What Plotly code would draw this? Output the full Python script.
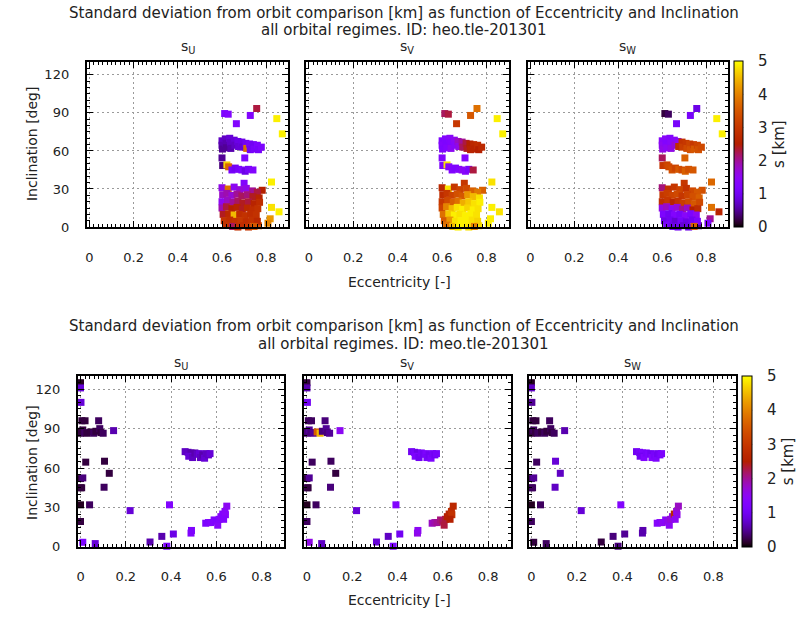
import math
import plotly.graph_objects as go

# ---------------- data ----------------
titles_top = ["Standard deviation from orbit comparison [km] as function of Eccentricity and Inclination",
              "all orbital regimes. ID: heo.tle-201301"]
titles_bot = ["Standard deviation from orbit comparison [km] as function of Eccentricity and Inclination",
              "all orbital regimes. ID: meo.tle-201301"]
panel_names = ["s<sub>U</sub>", "s<sub>V</sub>", "s<sub>W</sub>"]
x_ticks = [0, 0.2, 0.4, 0.6, 0.8]
x_ticktext = ["0", "0.2", "0.4", "0.6", "0.8"]
y_ticks = [0, 30, 60, 90, 120]
cb_ticks = [0, 1, 2, 3, 4, 5]

# HEO (top row)
heo_ecc = [0.612, 0.628, 0.665, 0.728, 0.757, 0.848, 0.873,
           0.600, 0.600, 0.602, 0.615, 0.618, 0.620, 0.635, 0.638, 0.640, 0.655, 0.658, 0.672, 0.675,
           0.690, 0.693, 0.708, 0.712, 0.725, 0.728, 0.742, 0.745, 0.760, 0.765, 0.778,
           0.600, 0.703,
           0.603, 0.622, 0.630, 0.645, 0.660, 0.675, 0.690, 0.705, 0.720, 0.740,
           0.824, 0.824, 0.858, 0.818, 0.808, 0.765, 0.700, 0.782,
           0.600, 0.628, 0.655, 0.680, 0.710, 0.738, 0.760,
           0.603, 0.622, 0.645, 0.668, 0.690, 0.715, 0.740, 0.768,
           0.600, 0.625, 0.650, 0.672, 0.695, 0.720, 0.745, 0.770,
           0.600, 0.620, 0.645, 0.668, 0.692, 0.715, 0.740, 0.762,
           0.605, 0.630, 0.655, 0.680, 0.705, 0.730, 0.755,
           0.610, 0.635, 0.660, 0.685, 0.710, 0.735, 0.760,
           0.620, 0.648, 0.672, 0.695, 0.720, 0.745]
heo_inc = [89.5, 89.0, 81.5, 88.0, 93.5, 85.5, 73.5,
           68.0, 64.5, 61.5, 69.5, 66.0, 62.5, 70.0, 66.5, 62.0, 68.5, 64.5, 67.5, 63.5,
           67.0, 63.0, 66.0, 62.0, 65.5, 61.0, 65.0, 61.5, 64.5, 61.0, 63.0,
           54.5, 54.5,
           48.5, 49.0, 47.5, 45.0, 46.5, 45.5, 45.0, 44.0, 45.5, 45.0,
           35.5, 15.5, 12.0, 6.5, 3.0, 1.0, 34.5, 29.0,
           31.0, 30.0, 31.5, 29.5, 30.5, 28.5, 27.5,
           25.5, 26.5, 25.0, 26.0, 24.5, 25.5, 24.0, 23.0,
           20.0, 21.0, 19.5, 20.5, 19.0, 20.0, 18.5, 19.5,
           15.0, 16.0, 14.5, 15.5, 14.0, 15.0, 13.5, 14.5,
           10.0, 10.5, 9.5, 10.0, 9.0, 10.5, 9.5,
           5.0, 5.5, 4.5, 5.0, 4.0, 5.5, 4.5,
           1.5, 0.5, 0.0, 1.0, 0.0, 0.5]
heo_su = [1.2, 1.3, 1.3, 1.3, 2.3, 4.9, 4.9,
          0.7, 0.6, 0.5, 0.7, 0.6, 0.5, 0.8, 0.7, 0.6, 0.8, 0.7, 0.9, 0.8,
          0.9, 0.8, 1.0, 3.8, 1.1, 1.0, 1.0, 1.1, 1.2, 1.1, 1.2,
          0.5, 1.2,
          0.4, 4.7, 3.7, 1.1, 1.0, 1.1, 1.2, 0.9, 1.1, 1.3,
          4.9, 4.8, 4.9, 4.2, 4.0, 3.5, 1.3, 2.5,
          1.6, 3.8, 1.5, 1.7, 1.6, 2.0, 2.3,
          1.8, 1.9, 1.7, 2.0, 2.2, 2.1, 2.4, 2.6,
          1.5, 1.8, 2.0, 2.2, 2.4, 2.3, 2.6, 2.8,
          1.9, 2.3, 2.5, 2.6, 2.4, 2.7, 2.8, 2.9,
          2.4, 2.7, 4.5, 2.8, 2.9, 2.8, 2.9,
          2.9, 2.8, 2.9, 3.0, 2.8, 2.9, 2.7,
          2.9, 2.2, 2.9, 2.8, 3.0, 3.5]
heo_sv = [2.2, 2.3, 3.0, 3.5, 3.8, 4.9, 4.9,
          1.2, 1.3, 1.2, 1.3, 1.2, 1.3, 1.4, 1.3, 1.5, 1.5, 1.4, 1.8, 1.6,
          2.0, 2.2, 2.3, 2.4, 2.5, 2.6, 2.7, 2.6, 2.8, 2.5, 2.7,
          1.3, 1.3,
          1.2, 4.8, 1.4, 1.3, 1.2, 1.3, 1.5, 1.4, 1.2, 2.3,
          4.8, 4.9, 4.8, 4.9, 4.9, 4.8, 3.0, 3.6,
          2.7, 4.8, 3.0, 3.2, 3.3, 3.6, 3.9,
          2.8, 3.0, 3.2, 3.4, 3.5, 4.2, 4.5, 4.8,
          3.0, 3.3, 3.6, 3.8, 4.4, 4.6, 4.8, 4.9,
          3.2, 4.0, 4.5, 4.8, 4.9, 4.7, 4.9, 4.8,
          3.8, 4.6, 4.9, 4.8, 4.9, 4.9, 4.8,
          3.5, 4.2, 4.8, 4.9, 4.9, 4.8, 4.7,
          3.8, 4.5, 4.9, 4.9, 4.8, 4.0]
heo_sw = [0.2, 0.3, 1.1, 1.1, 0.9, 4.9, 4.9,
          1.4, 1.5, 1.6, 1.4, 1.3, 1.5, 1.3, 1.4, 1.6, 1.4, 1.7, 1.5, 2.8,
          2.9, 3.1, 3.0, 3.3, 3.2, 3.4, 3.0, 3.5, 3.2, 3.4, 3.3,
          2.2, 3.6,
          3.0, 3.2, 3.3, 3.4, 3.2, 3.5, 3.3, 3.6, 3.4, 3.5,
          3.7, 3.8, 2.6, 2.0, 1.2, 0.5, 3.0, 3.4,
          2.1, 2.9, 3.0, 3.2, 2.9, 3.3, 3.5,
          3.0, 3.1, 3.2, 3.3, 3.0, 3.2, 3.4, 3.6,
          2.8, 3.0, 2.6, 2.9, 3.1, 3.3, 3.5, 3.3,
          1.6, 1.8, 1.5, 1.7, 2.0, 1.8, 2.5, 2.8,
          1.2, 1.0, 1.3, 1.1, 1.4, 1.2, 1.5,
          0.9, 1.0, 0.8, 1.1, 0.9, 1.0, 1.2,
          1.1, 0.9, 1.0, 0.8, 0.9, 3.6]

# MEO (bottom row)
meo_ecc = [0.000, 0.000, 0.002, 0.006, 0.020, 0.080,
           0.000, 0.000, 0.010, 0.018, 0.028, 0.045, 0.058, 0.068, 0.085, 0.090, 0.100, 0.146,
           0.023, 0.106, 0.127, 0.000, 0.010, 0.000, 0.005, 0.104, 0.000, 0.040, 0.219, 0.393,
           0.000, 0.010, 0.065, 0.307, 0.359, 0.381, 0.410, 0.488, 0.490,
           0.462, 0.475, 0.488, 0.478, 0.495, 0.505, 0.515, 0.525, 0.530, 0.540, 0.548, 0.555, 0.565, 0.572,
           0.553, 0.565, 0.575, 0.590, 0.600, 0.606, 0.612, 0.620, 0.628, 0.638, 0.646, 0.640, 0.632]
meo_inc = [125.0, 121.0, 110.0, 96.0, 96.0, 96.0,
           88.0, 86.5, 89.0, 87.0, 86.5, 87.5, 86.5, 88.0, 90.0, 87.0, 86.5, 88.5,
           64.5, 65.2, 56.0, 52.0, 52.5, 45.0, 45.0, 45.4, 32.0, 32.0, 27.6, 32.0,
           19.3, 3.5, 2.5, 3.7, 8.0, 0.5, 9.8, 10.5, 12.5,
           72.5, 72.0, 71.5, 69.0, 68.0, 71.5, 70.5, 71.0, 68.0, 70.0, 67.5, 71.0, 70.0, 71.0,
           18.0, 18.5, 18.5, 20.5, 19.5, 16.5, 21.0, 23.0, 25.0, 27.0, 31.0, 24.5, 21.0]
meo_su = [0.1, 0.8, 0.8, 0.2, 0.2, 0.3,
          0.1, 0.2, 0.2, 0.3, 0.2, 0.2, 0.3, 0.2, 0.3, 0.2, 0.3, 0.6,
          0.2, 0.2, 0.2, 0.2, 0.4, 0.1, 0.2, 0.3, 0.1, 0.3, 0.8, 1.3,
          0.2, 1.2, 0.8, 0.6, 0.6, 1.2, 0.9, 1.3, 1.2,
          0.7, 0.7, 0.6, 0.8, 0.7, 0.6, 0.7, 0.8, 0.7, 0.6, 0.8, 0.7, 0.7, 0.8,
          1.2, 1.2, 1.3, 1.3, 1.2, 1.4, 1.3, 1.4, 1.3, 1.4, 1.5, 1.4, 1.3]
meo_sv = [0.2, 0.6, 1.0, 0.3, 0.3, 0.4,
          0.3, 0.4, 0.5, 0.4, 0.5, 3.6, 4.5, 0.4, 0.5, 0.4, 0.5, 1.5,
          0.3, 0.3, 0.2, 0.2, 0.5, 0.3, 0.2, 0.4, 0.1, 0.3, 0.8, 1.3,
          0.3, 1.6, 0.7, 0.8, 0.7, 1.2, 1.0, 1.6, 1.5,
          1.0, 1.1, 0.9, 1.2, 1.0, 1.1, 1.0, 1.2, 1.1, 1.0, 1.2, 1.1, 1.0, 1.1,
          1.8, 1.9, 2.0, 2.1, 2.2, 2.3, 2.3, 2.5, 2.6, 2.8, 2.7, 2.9, 2.5]
meo_sw = [0.1, 0.7, 0.5, 0.2, 0.2, 0.3,
          0.2, 0.2, 0.3, 0.2, 0.3, 0.2, 0.3, 0.2, 0.3, 0.2, 0.3, 0.6,
          0.3, 0.8, 0.7, 0.3, 0.5, 0.3, 0.3, 0.7, 0.1, 0.3, 0.8, 1.3,
          0.3, 0.2, 0.3, 0.2, 0.4, 0.4, 0.5, 0.6, 0.6,
          1.0, 1.1, 1.2, 1.0, 1.3, 1.1, 1.2, 1.0, 1.3, 1.1, 1.2, 1.0, 1.1, 1.2,
          1.4, 1.3, 1.5, 1.4, 1.6, 1.5, 1.7, 1.6, 2.7, 1.7, 1.8, 1.6, 1.5]

# ---------------- style ----------------
W, H = 804, 622
FONT = "DejaVu Sans"
TXT = "#222222"

def px(x):
    return x / W

def py(y):
    return 1 - y / H

# gnuplot default palette (rgbformulae 7,5,15)
colorscale = []
for i in range(51):
    t = i / 50
    r = math.sqrt(t)
    g = t ** 3
    b = max(0.0, math.sin(2 * math.pi * t))
    colorscale.append([t, "rgb(%d,%d,%d)" % (round(r * 255), round(g * 255), round(b * 255))])

rows = [
    dict(ydom=(63, 230), xdoms=[(85, 287), (305, 508), (527, 728)],
         ecc=heo_ecc, inc=heo_inc, vals=[heo_su, heo_sv, heo_sw], ca="coloraxis",
         cb=dict(x0=734, x1=743, y0=62, y1=230), titles=titles_top, t_y=(13, 30), s_y=48,
         ylab=(30, 145), xlab=(398, 286)),
    dict(ydom=(381, 554), xdoms=[(76, 283), (303, 510), (528, 736)],
         ecc=meo_ecc, inc=meo_inc, vals=[meo_su, meo_sv, meo_sw], ca="coloraxis2",
         cb=dict(x0=742, x1=752, y0=381, y1=554), titles=titles_bot, t_y=(330, 348), s_y=368,
         ylab=(30, 468), xlab=(398, 608)),
]

fig = go.Figure()
layout = dict(width=W, height=H, margin=dict(l=0, r=0, t=0, b=0),
              paper_bgcolor="white", plot_bgcolor="white", showlegend=False,
              font=dict(family=FONT, size=13, color=TXT))
annotations = []
shapes = []


def note(text, x, y, size, angle=0):
    annotations.append(dict(text=text, x=px(x), y=py(y), xref="paper", yref="paper",
                            xanchor="center", yanchor="middle", showarrow=False,
                            textangle=angle, font=dict(family=FONT, size=size, color=TXT)))


k = 0
for r_i, row in enumerate(rows):
    for p_i in range(3):
        k += 1
        xa = "xaxis" if k == 1 else "xaxis%d" % k
        ya = "yaxis" if k == 1 else "yaxis%d" % k
        xd = row["xdoms"][p_i]
        fig.add_trace(go.Scatter(
            x=row["ecc"], y=row["inc"], mode="markers",
            xaxis="x" if k == 1 else "x%d" % k, yaxis="y" if k == 1 else "y%d" % k,
            cliponaxis=False,
            marker=dict(symbol="square", size=7, color=row["vals"][p_i],
                        coloraxis=row["ca"], line=dict(width=0)),
            hoverinfo="skip"))
        common = dict(showline=True, linecolor="black", linewidth=2, mirror="ticks",
                      ticks="inside", ticklen=6, tickcolor="black", tickwidth=1,
                      showgrid=True, gridcolor="#9a9a9a", gridwidth=1, griddash="2px,3px",
                      zeroline=False, tickfont=dict(family=FONT, size=13, color=TXT))
        layout[xa] = dict(common, domain=[px(xd[0]), px(xd[1])], range=[-0.012, 0.9],
                          tickvals=x_ticks, ticktext=x_ticktext, anchor="y" if k == 1 else "y%d" % k,
                          ticklabelstandoff=17,
                          minor=dict(ticks="inside", ticklen=3, dtick=0.02, tick0=0,
                                     tickcolor="black", showgrid=False))
        layout[ya] = dict(common, domain=[py(row["ydom"][1]), py(row["ydom"][0])], range=[0, 130],
                          tickvals=y_ticks, anchor="x" if k == 1 else "x%d" % k,
                          showticklabels=(p_i == 0), ticklabelstandoff=13,
                          minor=dict(ticks="inside", ticklen=3, dtick=5, tick0=0,
                                     tickcolor="black", showgrid=False))
        note(panel_names[p_i], (xd[0] + xd[1]) / 2, row["s_y"], 14)
    for t_i, t in enumerate(row["titles"]):
        note(t, 403, row["t_y"][t_i], 15)
    note("Inclination [deg]", row["ylab"][0], row["ylab"][1], 14, -90)
    note("Eccentricity [-]", row["xlab"][0], row["xlab"][1], 14)
    cb = row["cb"]
    layout[row["ca"]] = dict(
        cmin=0, cmax=5, colorscale=colorscale,
        colorbar=dict(x=px(cb["x0"]), xanchor="left", xpad=0, ypad=0,
                      y=py((cb["y0"] + cb["y1"]) / 2), yanchor="middle",
                      len=(cb["y1"] - cb["y0"]) / H, lenmode="fraction",
                      thickness=cb["x1"] - cb["x0"], thicknessmode="pixels",
                      outlinecolor="black", outlinewidth=1,
                      tickvals=cb_ticks, ticks="outside", ticklen=12, tickcolor="rgba(0,0,0,0)",
                      tickfont=dict(family=FONT, size=15, color=TXT),
                      title=dict(text="s [km]", side="right", font=dict(family=FONT, size=15, color=TXT))))
    for v in cb_ticks[1:-1]:
        yy = cb["y1"] - (cb["y1"] - cb["y0"]) * v / 5
        shapes.append(dict(type="line", xref="paper", yref="paper",
                           x0=px(cb["x0"]), x1=px(cb["x1"]), y0=py(yy), y1=py(yy),
                           line=dict(color="black", width=1)))

layout["annotations"] = annotations
layout["shapes"] = shapes
fig.update_layout(**layout)
fig.write_html("out.html")
